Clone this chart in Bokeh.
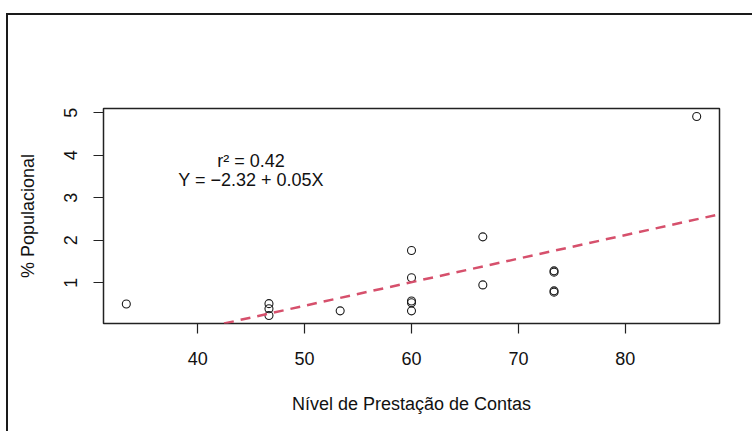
import numpy as np
from bokeh.plotting import figure
from bokeh.models import Range1d, FixedTicker, Slope, ColumnDataSource
from bokeh.core.properties import value
from bokeh.embed import file_html
from bokeh.resources import INLINE

# Nível de prestação de contas (%) e participação populacional (%) por município
nivel = [33.33, 46.67, 46.67, 46.67, 53.33, 60.0, 60.0, 60.0, 60.0, 60.0,
         66.67, 66.67, 73.33, 73.33, 73.33, 73.33, 86.67]
populacional = [0.50, 0.51, 0.39, 0.23, 0.34, 1.76, 1.12, 0.57, 0.53, 0.34,
                2.08, 0.95, 1.28, 1.25, 0.81, 0.78, 4.91]

x_ticks = [40, 50, 60, 70, 80]
y_ticks = [1, 2, 3, 4, 5]

r2_label = "r\u00b2 = 0.42"
eq_label = "Y = \u22122.32 + 0.05X"

FONT = "Liberation Sans"
INK = "#111111"

# least-squares line through the points
slope, intercept = np.polyfit(nivel, populacional, 1)

# axis limits padded by 4% of the data span on each side
def padded(vals, frac=0.04):
    lo, hi = min(vals), max(vals)
    pad = (hi - lo) * frac
    return lo - pad, hi + pad

x_lo, x_hi = padded(nivel)
y_lo, y_hi = padded(populacional)

p = figure(
    width=746, height=418,
    x_range=Range1d(x_lo, x_hi), y_range=Range1d(y_lo, y_hi),
    output_backend="svg", toolbar_location=None,
    min_border_left=95, min_border_right=35,
    min_border_top=93, min_border_bottom=110,
    background_fill_color="white", border_fill_color="white",
    styles={"margin-left": "6px", "margin-top": "13px",
            "border-left": "2px solid #1a1a1a", "border-top": "2px solid #1a1a1a"},
)
p.grid.visible = False
p.outline_line_color = "#222222"
p.outline_line_width = 1.5
p.outline_line_alpha = 1.0

for ax in (p.xaxis[0], p.yaxis[0]):
    ax.axis_line_color = None
    ax.major_tick_line_color = "#222222"
    ax.major_tick_line_width = 1.2
    ax.major_tick_out = 10
    ax.major_tick_in = 0
    ax.minor_tick_line_color = None
    ax.major_label_text_font = FONT
    ax.major_label_text_font_size = "18px"
    ax.major_label_text_color = INK
    ax.axis_label_text_font = FONT
    ax.axis_label_text_font_size = "18px"
    ax.axis_label_text_font_style = "normal"
    ax.axis_label_text_color = INK

p.xaxis.ticker = FixedTicker(ticks=x_ticks)
p.yaxis.ticker = FixedTicker(ticks=y_ticks)
p.yaxis.major_label_orientation = "vertical"
p.xaxis.axis_label = "Nível de Prestação de Contas"
p.yaxis.axis_label = "% Populacional"
p.xaxis.major_label_standoff = 18
p.xaxis.axis_label_standoff = 26
p.yaxis.major_label_standoff = 16
p.yaxis.axis_label_standoff = 24

src = ColumnDataSource(dict(x=nivel, y=populacional))
p.scatter("x", "y", source=src, marker="circle", size=8,
          fill_color=None, line_color="#1a1a1a", line_width=1.1)

p.add_layout(Slope(gradient=slope, y_intercept=intercept,
                   line_color="#D6506C", line_width=2.5, line_dash="10 7"))

p.text(x=[45, 45], y=[3.86, 3.41], text=[r2_label, eq_label],
       text_align="center", text_baseline="middle",
       text_font=value(FONT), text_font_size="18px", text_color=INK)

open("out.html", "w").write(file_html(p, INLINE))
